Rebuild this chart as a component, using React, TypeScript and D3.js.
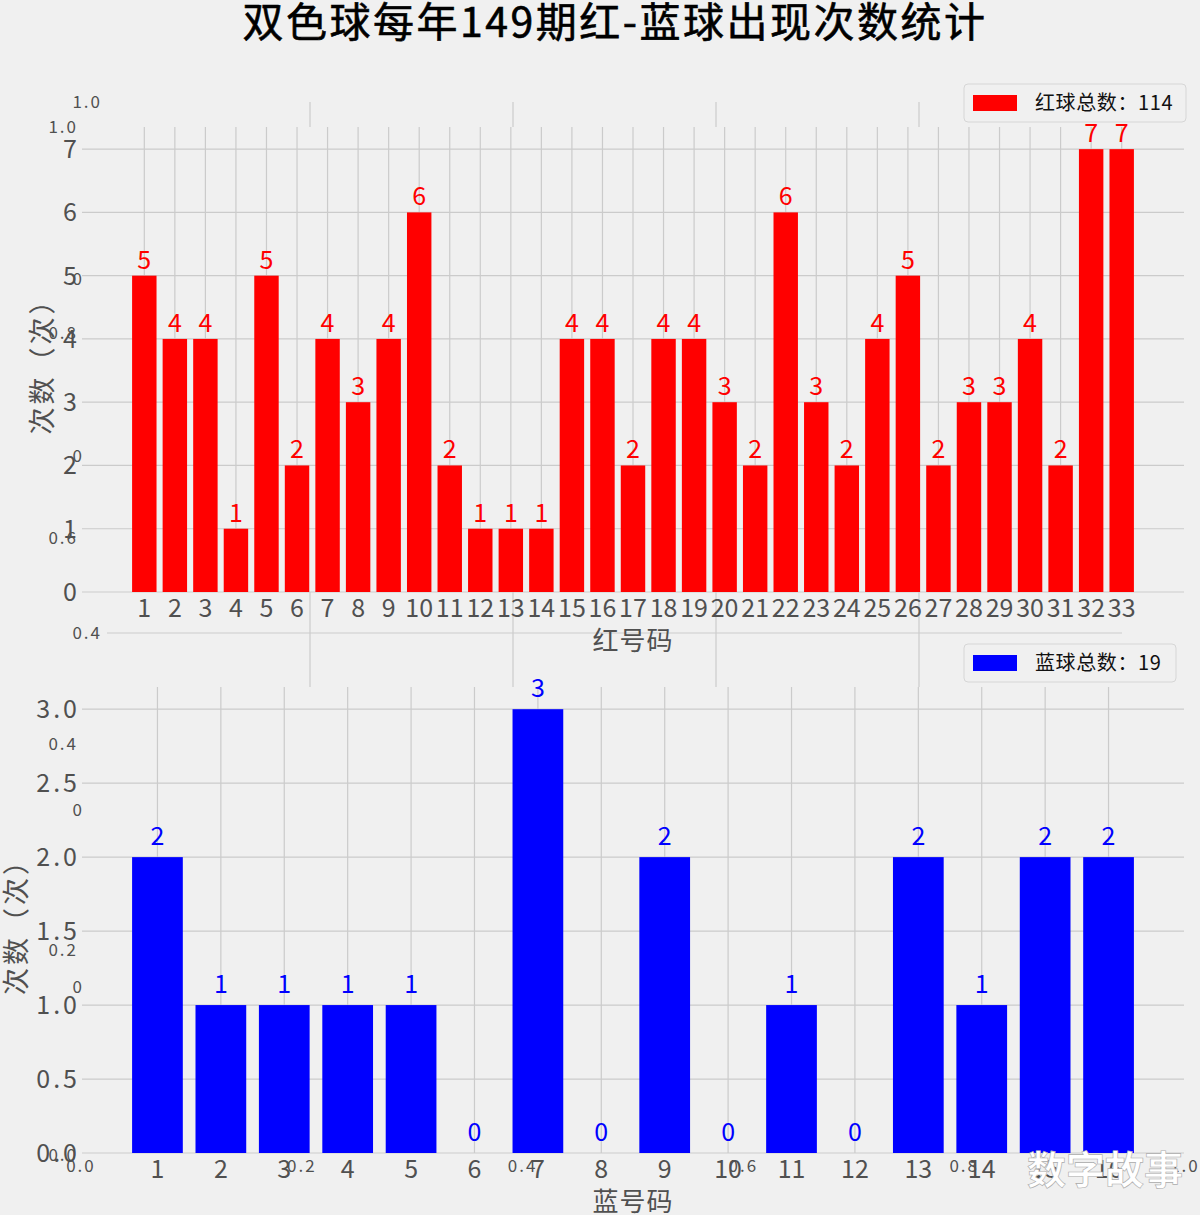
import React from "react";
import * as d3 from "d3";

// chart data
const redBalls: number[] = d3.range(1, 34);
const redCounts: number[] = [5, 4, 4, 1, 5, 2, 4, 3, 4, 6, 2, 1, 1, 1, 4, 4, 2, 4, 4, 3, 2, 6, 3, 2, 4, 5, 2, 3, 3, 4, 2, 7, 7];
const blueBalls: number[] = d3.range(1, 17);
const blueCounts: number[] = [2, 1, 1, 1, 1, 0, 3, 0, 2, 0, 1, 0, 2, 1, 2, 2];
const redTicks: number[] = [0, 1, 2, 3, 4, 5, 6, 7];
const blueTicks: number[] = [0, 0.5, 1, 1.5, 2, 2.5, 3];
const ghostTicks: number[] = [0, 0.2, 0.4, 0.6, 0.8, 1.0];

const title = "双色球每年149期红-蓝球出现次数统计";
const redLegend = `红球总数：${d3.sum(redCounts)}`;
const blueLegend = `蓝球总数：${d3.sum(blueCounts)}`;

const W = 1200;
const H = 1215;
const BG = "#f0f0f0";
const GRID = "#cbcbcb";
const TXT = "#505050";
const FONT = "'Noto Sans CJK SC', 'Noto Sans', sans-serif";

// main axes boxes
const axLeft = 82;
const axRight = 1184;
const top1 = { y0: 127, y1: 592 };
const top2 = { y0: 687, y1: 1153 };

interface PanelProps {
  balls: number[];
  counts: number[];
  ticks: number[];
  yMax: number;
  box: { y0: number; y1: number };
  color: string;
  xLabel: string;
  yLabelX: number;
  tickFmt: (d: number) => string;
  valueOffset: number;
  legend: string;
  legendY: number;
  legendW: number;
}

const Panel: React.FC<PanelProps> = ({ balls, counts, ticks, yMax, box, color, xLabel, yLabelX, tickFmt, valueOffset, legend, legendY, legendW }) => {
  const n = balls.length;
  const span = n - 1 + 0.8;
  const pad = span * 0.05;
  const x = d3.scaleLinear().domain([0.6 - pad, n + 0.4 + pad]).range([axLeft, axRight]);
  const y = d3.scaleLinear().domain([0, yMax * 1.05]).range([box.y1, box.y0]);
  const bw = x(0.8) - x(0);
  const cy = (box.y0 + box.y1) / 2;
  const cx = (axLeft + axRight) / 2;
  return (
    <g>
      <rect x={axLeft} y={box.y0} width={axRight - axLeft} height={box.y1 - box.y0} fill={BG} />
      {balls.map((b) => (
        <line key={"vx" + b} x1={x(b)} x2={x(b)} y1={box.y0} y2={box.y1} stroke={GRID} strokeWidth={1.2} />
      ))}
      {ticks.map((t) => (
        <line key={"hy" + t} x1={axLeft} x2={axRight} y1={y(t)} y2={y(t)} stroke={GRID} strokeWidth={1.2} />
      ))}
      {counts.map((c, i) => (
        <rect key={"b" + i} x={x(balls[i]) - bw / 2} y={y(c)} width={bw} height={y(0) - y(c)} fill={color} />
      ))}
      {counts.map((c, i) => (
        <text key={"v" + i} x={x(balls[i])} y={y(c) - valueOffset} textAnchor="middle" fontSize={25} fill={color} fontFamily={FONT}>
          {c}
        </text>
      ))}
      {balls.map((b) => (
        <text key={"xt" + b} x={x(b)} y={box.y1 + 25} textAnchor="middle" fontSize={25} fill={TXT} fontFamily={FONT}>
          {b}
        </text>
      ))}
      {ticks.map((t) => (
        <text key={"yt" + t} x={80} y={y(t)} dy="0.36em" textAnchor="end" fontSize={25} letterSpacing={3} fill={TXT} fontFamily={FONT}>
          {tickFmt(t)}
        </text>
      ))}
      <text x={cx} y={box.y1 + 58} textAnchor="middle" fontSize={26} letterSpacing={1} fill={TXT} fontFamily={FONT}>
        {xLabel}
      </text>
      <text transform={`translate(${yLabelX},${cy}) rotate(-90)`} textAnchor="middle" dy="0.36em" fontSize={27} letterSpacing={3} fill={TXT} fontFamily={FONT}>
        次数（次）
      </text>
      <g transform={`translate(${964},${legendY})`}>
        <rect x={0} y={0} width={legendW} height={38} rx={4} fill={BG} stroke="#d6d6d6" strokeWidth={1} />
        <rect x={9} y={11} width={44} height={16} fill={color} />
        <text x={71} y={19} dy="0.36em" fontSize={20} letterSpacing={0.6} fill="#111" fontFamily={FONT}>
          {legend}
        </text>
      </g>
    </g>
  );
};

const App: React.FC = () => {
  // figure-level background axes (0..1)
  const ax = d3.scaleLinear().domain([0, 1]).range([81, 1185]);
  const ay = d3.scaleLinear().domain([0, 1]).range([1155, 127]);
  // second background axes (0..1)
  const bx = d3.scaleLinear().domain([0, 1]).range([107, 1122]);
  const by = d3.scaleLinear().domain([0, 1]).range([987, 102]);
  const inner = ghostTicks.filter((t) => t > 0 && t < 1);

  return (
    <svg width={W} height={H} style={{ position: "absolute", left: 0, top: 0 }} fontFamily={FONT}>
      <rect x={0} y={0} width={W} height={H} fill={BG} />

      {/* background axes A labels */}
      {ghostTicks.map((t) => (
        <text key={"ay" + t} x={78} y={ay(t)} dy="0.36em" textAnchor="end" fontSize={17} letterSpacing={2} fill={TXT}>
          {t.toFixed(1)}
        </text>
      ))}
      {ghostTicks.map((t) => (
        <text key={"ax" + t} x={ax(t)} y={1172} textAnchor="middle" fontSize={17} letterSpacing={2} fill={TXT}>
          {t.toFixed(1)}
        </text>
      ))}

      {/* background axes B grid + labels */}
      {inner.map((t) => (
        <line key={"bgx" + t} x1={bx(t)} x2={bx(t)} y1={by(1)} y2={by(0)} stroke={GRID} strokeWidth={1.2} />
      ))}
      {inner.map((t) => (
        <line key={"bgy" + t} x1={bx(0)} x2={bx(1)} y1={by(t)} y2={by(t)} stroke={GRID} strokeWidth={1.2} />
      ))}
      {ghostTicks.map((t) => (
        <text key={"by" + t} x={102} y={by(t)} dy="0.36em" textAnchor="end" fontSize={17} letterSpacing={2} fill={TXT}>
          {t.toFixed(1)}
        </text>
      ))}

      <Panel
        balls={redBalls}
        counts={redCounts}
        ticks={redTicks}
        yMax={d3.max(redCounts) as number}
        box={top1}
        color="#ff0000"
        xLabel="红号码"
        yLabelX={42}
        tickFmt={(d) => String(d)}
        valueOffset={7}
        legend={redLegend}
        legendY={84}
        legendW={222}
      />
      <Panel
        balls={blueBalls}
        counts={blueCounts}
        ticks={blueTicks}
        yMax={d3.max(blueCounts) as number}
        box={top2}
        color="#0000ff"
        xLabel="蓝号码"
        yLabelX={16}
        tickFmt={(d) => d.toFixed(1)}
        valueOffset={12}
        legend={blueLegend}
        legendY={644}
        legendW={212}
      />

      <text x={615} y={37} textAnchor="middle" fontSize={41} letterSpacing={2.5} fill="#000" stroke="#000" strokeWidth={0.6} fontFamily={FONT}>
        {title}
      </text>

      {/* watermark */}
      <text x={1105} y={1170} dy="0.36em" textAnchor="middle" fontSize={39} fontWeight="bold" fill="#ffffff" stroke="#aaaaaa" strokeWidth={0.6} fontFamily={FONT}>
        数字故事
      </text>
    </svg>
  );
};

export default App;
